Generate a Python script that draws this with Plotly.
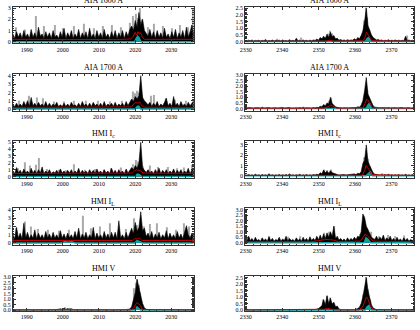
import numpy as np
import plotly.graph_objects as go

# ---------------- data ----------------
titles_left = ["AIA 1600 A", "AIA 1700 A", "HMI I<sub>c</sub>", "HMI I<sub>L</sub>", "HMI V"]
titles_right = ["AIA 1600 A", "AIA 1700 A", "HMI I<sub>c</sub>", "HMI I<sub>L</sub>", "HMI V"]

left_span = (1986.2, 2036.2)
right_span = (2329.8, 2376.2)
left_xticks = [1990, 2000, 2010, 2020, 2030]
right_xticks = [2330, 2340, 2350, 2360, 2370]

# black (dense) series, 100 samples across each panel's time span
L1_black = [0.7,0.3,0.9,0.4,0.8,0.3,1.0,0.4,0.7,0.3,
            1.1,0.4,0.8,0.3,1.3,0.5,0.7,0.3,0.9,0.4,
            0.8,0.3,1.0,0.4,0.6,0.3,0.9,0.4,1.2,0.3,
            0.8,0.4,1.0,0.3,0.7,0.4,1.1,0.3,0.8,0.4,
            0.9,0.3,1.2,0.4,0.7,0.3,1.0,0.4,0.8,0.3,
            1.1,0.4,0.7,0.3,0.9,0.4,1.0,0.3,0.8,0.4,
            1.0,0.3,0.9,0.5,1.1,1.4,1.0,1.9,1.3,2.6,
            1.5,2.0,1.0,0.8,0.5,1.1,0.4,0.9,0.3,1.0,
            0.4,0.8,0.3,1.2,0.4,0.7,0.3,0.9,0.4,1.1,
            0.3,0.8,0.4,1.0,0.3,1.3,0.4,0.9,1.5,0.6]
L2_black = [0.5,0.3,0.7,0.3,0.6,0.3,0.9,0.4,1.0,0.3,
            1.4,0.4,0.7,0.3,0.8,0.4,0.6,0.3,0.9,0.3,
            0.7,0.3,0.6,0.4,0.8,0.3,0.5,0.3,0.7,0.3,
            0.6,0.3,0.8,0.4,0.5,0.3,0.7,0.3,0.9,0.4,
            0.6,0.3,0.7,0.3,0.8,0.4,0.6,0.3,0.7,0.3,
            0.9,0.3,0.6,0.4,0.7,0.3,0.8,0.3,0.6,0.4,
            0.7,0.3,0.9,0.4,0.8,1.2,0.9,1.5,1.2,1.6,
            4.0,1.4,1.0,0.7,0.5,0.8,0.3,0.7,0.4,0.9,
            0.3,0.6,0.4,0.8,1.3,0.4,0.7,0.3,1.5,0.4,
            0.7,0.3,0.9,0.4,0.6,0.3,0.8,0.4,0.7,1.0]
L3_black = [0.8,0.4,1.3,0.5,0.9,0.4,1.1,0.5,0.8,0.4,
            1.2,0.5,0.9,0.4,1.0,0.5,1.4,0.4,0.8,0.5,
            1.0,0.4,0.7,0.5,0.9,0.4,1.1,0.5,0.8,0.4,
            0.9,0.5,1.0,0.4,0.8,0.5,1.2,0.4,0.9,0.5,
            0.8,0.4,1.0,0.5,0.9,0.4,1.1,0.5,0.8,0.4,
            1.0,0.5,0.8,0.4,1.2,0.5,0.9,0.4,1.0,0.5,
            0.8,0.4,1.1,0.5,0.9,1.3,1.0,1.6,1.2,2.0,
            5.0,1.3,0.9,0.6,1.0,0.5,0.8,0.4,1.0,0.5,
            1.2,0.4,0.9,0.5,1.0,0.4,0.8,0.5,1.1,0.4,
            0.9,0.5,1.0,0.4,0.8,0.5,1.2,0.4,0.9,1.3]
L4_black = [1.0,0.5,1.9,0.6,1.2,0.5,2.4,0.6,1.3,0.5,
            1.0,0.6,1.6,0.5,1.2,0.6,1.0,0.5,1.4,0.6,
            1.1,0.5,1.3,0.6,1.0,0.5,1.5,0.6,1.1,0.5,
            1.2,0.6,1.0,0.5,1.4,0.6,1.8,0.5,1.1,0.6,
            1.3,0.5,1.0,0.6,1.9,0.5,1.2,0.6,1.0,0.5,
            1.4,0.6,1.1,0.5,1.3,0.6,1.3,0.5,2.7,0.6,
            1.0,0.5,1.3,0.6,1.2,1.8,1.1,2.5,1.4,1.9,
            3.8,1.5,1.8,0.8,1.2,0.6,1.4,0.5,1.1,0.6,
            1.3,0.5,1.0,0.6,1.5,0.5,1.2,0.6,1.0,0.5,
            1.4,0.6,1.1,0.5,1.3,2.1,1.0,0.6,1.2,0.9]
L5_black = [0.03,0.02,0.04,0.02,0.03,0.02,0.03,0.02,0.04,0.02,
            0.03,0.02,0.03,0.02,0.04,0.02,0.03,0.02,0.03,0.02,
            0.03,0.02,0.04,0.03,0.05,0.08,0.12,0.06,0.18,0.07,
            0.14,0.08,0.12,0.05,0.06,0.03,0.04,0.02,0.03,0.02,
            0.03,0.02,0.03,0.02,0.04,0.02,0.03,0.02,0.03,0.02,
            0.03,0.02,0.04,0.02,0.03,0.02,0.03,0.02,0.04,0.03,
            0.04,0.03,0.06,0.05,0.10,0.30,0.90,1.60,2.80,2.00,
            1.50,0.60,0.20,0.08,0.05,0.03,0.02,0.03,0.02,0.03,
            0.02,0.03,0.02,0.03,0.02,0.03,0.02,0.03,0.02,0.03,
            0.02,0.03,0.02,0.03,0.02,0.03,0.02,0.03,0.02,0.03]

R1_black = [0.08,0.04,0.10,0.05,0.12,0.04,0.08,0.05,0.10,0.04,
            0.09,0.05,0.15,0.04,0.08,0.05,0.11,0.04,0.09,0.05,
            0.10,0.04,0.12,0.05,0.08,0.04,0.14,0.05,0.09,0.04,
            0.25,0.05,0.10,0.04,0.12,0.05,0.09,0.04,0.11,0.05,
            0.12,0.08,0.18,0.10,0.30,0.20,0.40,0.25,0.55,0.30,
            0.70,0.35,0.45,0.20,0.25,0.10,0.15,0.08,0.12,0.06,
            0.14,0.08,0.12,0.10,0.20,0.12,0.30,0.20,0.45,0.80,
            1.50,2.50,1.20,0.80,0.50,0.30,0.20,0.12,0.15,0.08,
            0.12,0.05,0.10,0.06,0.14,0.05,0.10,0.06,0.12,0.05,
            0.10,0.06,0.09,0.05,0.40,0.06,0.11,0.05,0.09,0.05]
R2_black = [0.06,0.03,0.08,0.04,0.05,0.03,0.07,0.03,0.06,0.04,
            0.12,0.03,0.06,0.04,0.08,0.03,0.05,0.04,0.07,0.03,
            0.06,0.04,0.09,0.03,0.06,0.04,0.08,0.03,0.07,0.04,
            0.06,0.03,0.08,0.04,0.12,0.03,0.06,0.04,0.07,0.03,
            0.08,0.05,0.10,0.08,0.20,0.15,0.35,0.25,0.50,0.40,
            1.00,0.45,0.30,0.15,0.10,0.06,0.08,0.04,0.06,0.04,
            0.07,0.04,0.06,0.05,0.10,0.08,0.15,0.12,0.30,0.70,
            1.60,2.80,1.30,0.90,0.50,0.25,0.12,0.08,0.06,0.04,
            0.07,0.03,0.06,0.04,0.08,0.03,0.06,0.04,0.07,0.03,
            0.06,0.04,0.08,0.03,0.06,0.04,0.07,0.03,0.06,0.04]
R3_black = [0.10,0.05,0.12,0.06,0.09,0.05,0.15,0.06,0.10,0.05,
            0.12,0.06,0.10,0.05,0.20,0.06,0.11,0.05,0.09,0.06,
            0.13,0.05,0.10,0.06,0.12,0.05,0.18,0.06,0.10,0.05,
            0.11,0.06,0.14,0.05,0.10,0.06,0.12,0.05,0.10,0.06,
            0.12,0.08,0.15,0.10,0.30,0.20,0.55,0.30,0.45,0.25,
            0.50,0.30,0.25,0.15,0.12,0.08,0.10,0.06,0.12,0.08,
            0.10,0.08,0.15,0.10,0.18,0.12,0.25,0.20,0.40,1.20,
            1.50,3.00,1.40,1.00,0.60,0.30,0.15,0.10,0.12,0.06,
            0.10,0.05,0.12,0.06,0.15,0.05,0.10,0.06,0.11,0.05,
            0.12,0.06,0.10,0.05,0.14,0.06,0.10,0.05,0.12,0.06]
R4_black = [0.35,0.15,0.60,0.20,0.40,0.15,0.50,0.20,0.30,0.15,
            0.45,0.20,0.35,0.15,0.55,0.20,0.40,0.15,0.30,0.20,
            0.50,0.15,0.35,0.20,0.60,0.15,0.40,0.20,0.30,0.15,
            0.45,0.20,0.35,0.15,0.50,0.20,0.40,0.15,0.55,0.20,
            0.40,0.20,0.60,0.25,0.70,0.30,0.80,0.40,0.90,0.50,
            1.00,0.60,1.50,0.40,0.60,0.25,0.40,0.20,0.35,0.15,
            0.45,0.20,0.40,0.25,0.50,0.30,0.60,0.50,1.00,2.60,
            2.30,1.50,1.20,0.80,0.50,0.40,0.30,0.60,0.25,0.50,
            0.30,0.70,0.20,0.45,0.25,0.60,0.20,0.40,0.15,0.50,
            0.20,0.35,0.15,0.45,0.20,0.40,0.15,0.30,0.20,0.35]
R5_black = [0.01,0.00,0.01,0.00,0.01,0.00,0.01,0.00,0.01,0.00,
            0.01,0.00,0.01,0.00,0.01,0.00,0.01,0.00,0.01,0.00,
            0.01,0.00,0.01,0.00,0.01,0.00,0.01,0.00,0.01,0.00,
            0.01,0.00,0.01,0.00,0.01,0.00,0.01,0.00,0.01,0.00,
            0.01,0.02,0.05,0.10,0.20,0.35,0.80,0.40,1.10,0.50,
            0.90,0.45,0.60,0.25,0.30,0.08,0.03,0.01,0.01,0.00,
            0.01,0.00,0.02,0.01,0.03,0.05,0.10,0.20,0.50,1.00,
            1.80,2.50,1.50,0.80,0.40,0.15,0.05,0.02,0.01,0.00,
            0.01,0.00,0.01,0.00,0.01,0.00,0.01,0.00,0.01,0.00,
            0.01,0.00,0.01,0.00,0.01,0.00,0.01,0.00,0.01,0.00]

# gray (taller, lighter) spikes: times and heights
L1_gray_t = [1987.0,1989.5,1992.5,1994.8,1997.8,2000.0,2003.0,2005.8,2008.5,2011.0,2013.5,2016.2,
             2018.6,2019.5,2020.2,2020.7,2021.2,2021.8,2023.5,2025.3,2027.6,2030.3,2032.5,2034.5,2035.9]
L1_gray_v = [1.3,1.1,2.3,1.4,1.5,1.2,1.4,1.6,1.2,1.4,1.5,1.3,
             1.7,2.3,2.5,2.1,3.0,2.0,1.3,1.6,1.4,1.2,1.5,1.3,3.0]
L2_gray_t = [1988.0,1990.6,1992.8,1994.6,1997.5,2000.2,2003.0,2006.5,2009.8,2013.0,2016.3,
             2019.3,2019.9,2020.5,2021.0,2022.0,2024.5,2025.2,2028.4,2031.0,2034.0]
L2_gray_v = [1.0,1.6,1.4,1.3,0.9,0.9,1.0,1.0,1.0,0.9,1.0,
             2.1,1.9,2.2,2.0,1.7,1.6,1.7,1.3,1.1,1.0]
L3_gray_t = [1987.5,1989.5,1990.9,1992.7,1993.4,1995.5,1998.8,2001.0,2003.1,2006.2,2009.0,2011.3,
             2013.4,2016.0,2019.5,2020.3,2020.8,2022.1,2024.0,2026.2,2029.0,2031.5,2033.4,2035.8]
L3_gray_v = [1.2,2.1,1.6,1.7,2.7,1.1,1.0,0.9,1.8,1.0,1.1,1.0,
             1.2,1.3,1.8,2.4,2.2,1.5,1.6,1.4,1.4,1.2,1.3,1.7]
L4_gray_t = [1987.0,1989.6,1991.2,1993.2,1996.0,1998.8,2001.8,2005.6,2007.8,2010.2,2013.0,
             2017.5,2019.8,2020.4,2022.4,2024.2,2026.0,2028.8,2031.2,2033.6,2035.0]
L4_gray_v = [1.8,2.6,2.0,1.7,1.6,1.5,1.6,3.3,1.8,2.0,2.4,
             1.7,3.0,2.2,2.0,2.3,2.4,1.9,1.6,2.4,2.0]
L5_gray_t = [2000.5,2002.0,2019.8,2020.3,2020.6,2021.0,2021.4]
L5_gray_v = [0.25,0.2,2.0,2.5,2.85,2.3,1.6]

R1_gray_t = [2338.6,2345.3,2352.5,2353.2,2353.8,2361.8,2362.6,2363.0,2363.4,2364.0,2374.2]
R1_gray_v = [0.2,0.3,0.6,0.8,0.6,0.4,1.6,2.55,1.8,0.9,0.45]
R2_gray_t = [2352.8,2353.4,2362.5,2363.4,2363.8]
R2_gray_v = [0.7,1.0,0.9,1.7,1.0]
R3_gray_t = [2351.6,2352.4,2353.3,2362.4,2362.8,2363.5,2364.2,2367.5]
R3_gray_v = [0.6,0.55,0.6,1.8,1.3,1.6,0.9,0.25]
R4_gray_t = [2331.0,2336.5,2341.5,2345.0,2349.5,2351.5,2352.8,2354.2,2361.5,2364.5,
             2366.5,2369.0,2371.0,2373.5]
R4_gray_v = [0.55,0.6,0.55,0.6,0.5,0.9,1.0,1.5,0.8,1.0,0.6,0.7,0.6,0.65]
R5_gray_t = [2351.3,2352.2,2353.1,2353.9,2362.3,2363.0,2363.6,2364.2]
R5_gray_v = [0.8,1.1,0.95,0.5,1.2,2.55,1.6,0.8]

# red (mean) curves
L1_red_t = [1986.2,1995,2005,2015,2018.8,2019.5,2020.0,2020.4,2020.8,2021.2,2021.6,2022.0,2022.6,2030,2036.2]
L1_red_v = [0.22,0.2,0.22,0.2,0.25,0.5,0.85,0.6,0.9,0.7,0.8,0.4,0.22,0.2,0.22]
L2_red_t = [1986.2,2000,2019.0,2019.6,2020.2,2020.7,2021.2,2021.7,2022.3,2036.2]
L2_red_v = [0.2,0.2,0.25,0.6,0.8,0.7,0.85,0.5,0.22,0.2]
L3_red_t = [1986.2,2000,2019.2,2019.8,2020.4,2021.0,2021.6,2022.2,2036.2]
L3_red_v = [0.45,0.45,0.5,0.8,1.0,0.9,0.8,0.5,0.45]
L4_red_t = [1986.2,2019.3,2020.0,2020.6,2021.2,2021.8,2036.2]
L4_red_v = [0.3,0.3,0.55,0.45,0.6,0.3,0.3]
L5_red_t = [1986.2,2018.8,2019.5,2020.0,2020.5,2021.0,2021.5,2022.0,2036.2]
L5_red_v = [0.02,0.02,0.15,0.5,0.7,0.55,0.4,0.05,0.02]

R1_red_t = [2329.8,2352,2353,2354,2362.2,2362.7,2363.1,2363.5,2364.0,2364.6,2376.2]
R1_red_v = [0.02,0.02,0.1,0.02,0.05,0.3,0.7,0.55,0.3,0.05,0.02]
R2_red_t = [2329.8,2351.5,2352.5,2353.3,2354.2,2355,2362.2,2362.8,2363.2,2363.6,2364.1,2364.8,2376.2]
R2_red_v = [0.02,0.02,0.15,0.3,0.15,0.02,0.05,0.5,0.85,0.7,0.4,0.05,0.02]
R3_red_t = [2329.8,2351,2352.5,2354,2362,2362.6,2363.0,2363.4,2363.8,2364.5,2376.2]
R3_red_v = [0.03,0.03,0.1,0.03,0.05,0.5,1.0,0.8,0.6,0.1,0.03]
R4_red_t = [2329.8,2348,2350,2352,2354,2355.5,2361.5,2362.2,2362.8,2363.4,2364.2,2365,2376.2]
R4_red_v = [0.1,0.1,0.2,0.3,0.25,0.1,0.15,0.5,0.8,0.6,0.4,0.15,0.1]
R5_red_t = [2329.8,2350.5,2351.5,2352.5,2353.5,2354.5,2361.0,2362.0,2362.6,2363.1,2363.6,2364.2,2365.0,2376.2]
R5_red_v = [0.0,0.0,0.05,0.12,0.08,0.0,0.0,0.2,0.6,1.0,0.8,0.3,0.02,0.0]

# cyan (lower) curves
L1_cyan_t = [1986.2,2019.8,2020.3,2020.7,2021.1,2021.6,2036.2]
L1_cyan_v = [0,0,0.3,0.5,0.35,0,0]
L2_cyan_t = [1986.2,2020.0,2020.6,2021.0,2021.5,2036.2]
L2_cyan_v = [0,0,0.3,0.35,0,0]
L3_cyan_t = [1986.2,2020.0,2020.6,2021.2,2021.8,2036.2]
L3_cyan_v = [0,0,0.35,0.25,0,0]
L4_cyan_t = [1986.2,1999.5,2000.5,2001.5,2002.5,2003.5,2019.8,2020.5,2021.2,2022.0,2036.2]
L4_cyan_v = [0,0,0.15,0.08,0.15,0,0,0.3,0.2,0,0]
L5_cyan_t = [1986.2,2020.0,2020.5,2021.0,2021.5,2036.2]
L5_cyan_v = [0,0,0.3,0.15,0,0]

R1_cyan_t = [2329.8,2362.8,2363.4,2363.8,2364.4,2376.2]
R1_cyan_v = [0,0,0.25,0.3,0,0]
R2_cyan_t = [2329.8,2363.0,2363.5,2364.0,2364.5,2376.2]
R2_cyan_v = [0,0,0.3,0.5,0,0]
R3_cyan_t = [2329.8,2363.0,2363.6,2364.2,2364.8,2376.2]
R3_cyan_v = [0,0,0.2,0.4,0,0]
R4_cyan_t = [2329.8,2362.5,2363.0,2363.6,2364.3,2376.2]
R4_cyan_v = [0,0,0.45,0.3,0,0]
R5_cyan_t = [2329.8,2362.8,2363.3,2363.8,2364.4,2376.2]
R5_cyan_v = [0,0,0.25,0.35,0,0]

left_yranges = [(-0.15, 3.1), (-0.2, 4.2), (-0.2, 5.15), (-0.25, 4.2), (-0.1, 3.15)]
right_yranges = [(-0.15, 2.6), (-0.2, 3.1), (-0.2, 3.35), (-0.2, 3.1), (-0.1, 2.65)]
left_yticks = [[0, 1, 2, 3], [0, 1, 2, 3, 4], [0, 1, 2, 3, 4, 5], [0, 1, 2, 3, 4],
               [0, 0.5, 1.0, 1.5, 2.0, 2.5, 3.0]]
right_yticks = [[0, 0.5, 1.0, 1.5, 2.0, 2.5], [0, 0.5, 1.0, 1.5, 2.0, 2.5, 3.0], [0, 1, 2, 3],
                [0, 0.5, 1.0, 1.5, 2.0, 2.5, 3.0], [0, 0.5, 1.0, 1.5, 2.0, 2.5]]
left_yfmt = ["d", "d", "d", "d", ".1f"]
right_yfmt = [".1f", ".1f", "d", ".1f", ".1f"]

left_panels = [
    (L1_black, L1_gray_t, L1_gray_v, L1_red_t, L1_red_v, L1_cyan_t, L1_cyan_v),
    (L2_black, L2_gray_t, L2_gray_v, L2_red_t, L2_red_v, L2_cyan_t, L2_cyan_v),
    (L3_black, L3_gray_t, L3_gray_v, L3_red_t, L3_red_v, L3_cyan_t, L3_cyan_v),
    (L4_black, L4_gray_t, L4_gray_v, L4_red_t, L4_red_v, L4_cyan_t, L4_cyan_v),
    (L5_black, L5_gray_t, L5_gray_v, L5_red_t, L5_red_v, L5_cyan_t, L5_cyan_v),
]
right_panels = [
    (R1_black, R1_gray_t, R1_gray_v, R1_red_t, R1_red_v, R1_cyan_t, R1_cyan_v),
    (R2_black, R2_gray_t, R2_gray_v, R2_red_t, R2_red_v, R2_cyan_t, R2_cyan_v),
    (R3_black, R3_gray_t, R3_gray_v, R3_red_t, R3_red_v, R3_cyan_t, R3_cyan_v),
    (R4_black, R4_gray_t, R4_gray_v, R4_red_t, R4_red_v, R4_cyan_t, R4_cyan_v),
    (R5_black, R5_gray_t, R5_gray_v, R5_red_t, R5_red_v, R5_cyan_t, R5_cyan_v),
]

# ---------------- layout geometry ----------------
W, H = 420, 330
row_px = [(5, 42), (73, 110), (141, 178), (209, 246), (277, 313)]
col_px = [(8, 191), (243, 414)]

FONT = "Liberation Serif"
fig = go.Figure()
layout = dict(width=W, height=H, margin=dict(l=0, r=0, t=0, b=0), autosize=False,
              showlegend=False, paper_bgcolor="white", plot_bgcolor="white",
              barmode="overlay", annotations=[])

k = 0
for col in range(2):
    panels = left_panels if col == 0 else right_panels
    span = left_span if col == 0 else right_span
    xt = left_xticks if col == 0 else right_xticks
    yr = left_yranges if col == 0 else right_yranges
    ytk = left_yticks if col == 0 else right_yticks
    yfm = left_yfmt if col == 0 else right_yfmt
    tt = titles_left if col == 0 else titles_right
    for row in range(5):
        k += 1
        xa, ya = f"x{k}", f"y{k}"
        black, gt, gv, rt, rv, ct, cv = panels[row]
        t = np.linspace(span[0], span[1], len(black))
        fig.add_trace(go.Bar(x=gt, y=gv, width=0.3, marker=dict(color="#a9a9a9", line_width=0),
                             xaxis=xa, yaxis=ya))
        fig.add_trace(go.Scatter(x=t, y=black, mode="lines", line=dict(color="black", width=0.6),
                                 fill="tozeroy", fillcolor="black", xaxis=xa, yaxis=ya))
        fig.add_trace(go.Scatter(x=ct, y=cv, mode="lines", line=dict(color="#10a0a0", width=1.5),
                                 fill="tozeroy", fillcolor="#10a0a0", xaxis=xa, yaxis=ya))
        fig.add_trace(go.Scatter(x=rt, y=rv, mode="lines", line=dict(color="#c00000", width=1),
                                 xaxis=xa, yaxis=ya))
        x0, x1 = col_px[col]
        t0, b0 = row_px[row]
        axis_common = dict(showline=True, linecolor="#333333", linewidth=1, mirror="ticks",
                           ticks="inside", ticklen=3, tickwidth=0.8, tickcolor="#333333",
                           showgrid=False, zeroline=False,
                           tickfont=dict(family=FONT, size=6, color="black"))
        layout[f"xaxis{k}"] = dict(axis_common, domain=[x0 / W, x1 / W], anchor=ya,
                                   range=list(span), tickvals=xt,
                                   minor=dict(ticks="inside", ticklen=1.5, dtick=2,
                                              tickcolor="#333333", tickwidth=0.6))
        ystep = ytk[row][1] - ytk[row][0]
        layout[f"yaxis{k}"] = dict(axis_common, domain=[1 - b0 / H, 1 - t0 / H], anchor=xa,
                                   range=list(yr[row]), tickvals=ytk[row], tickformat=yfm[row],
                                   minor=dict(ticks="inside", ticklen=1.5, dtick=ystep / 5,
                                              tickcolor="#333333", tickwidth=0.6))
        layout["annotations"].append(dict(
            text=tt[row], xref="paper", yref="paper", x=(x0 + x1) / 2 / W,
            y=1 - (t0 - 7) / H, xanchor="center", yanchor="middle", showarrow=False,
            font=dict(family=FONT, size=8, color="black")))

fig.update_layout(**layout)
fig.write_html("out.html")
